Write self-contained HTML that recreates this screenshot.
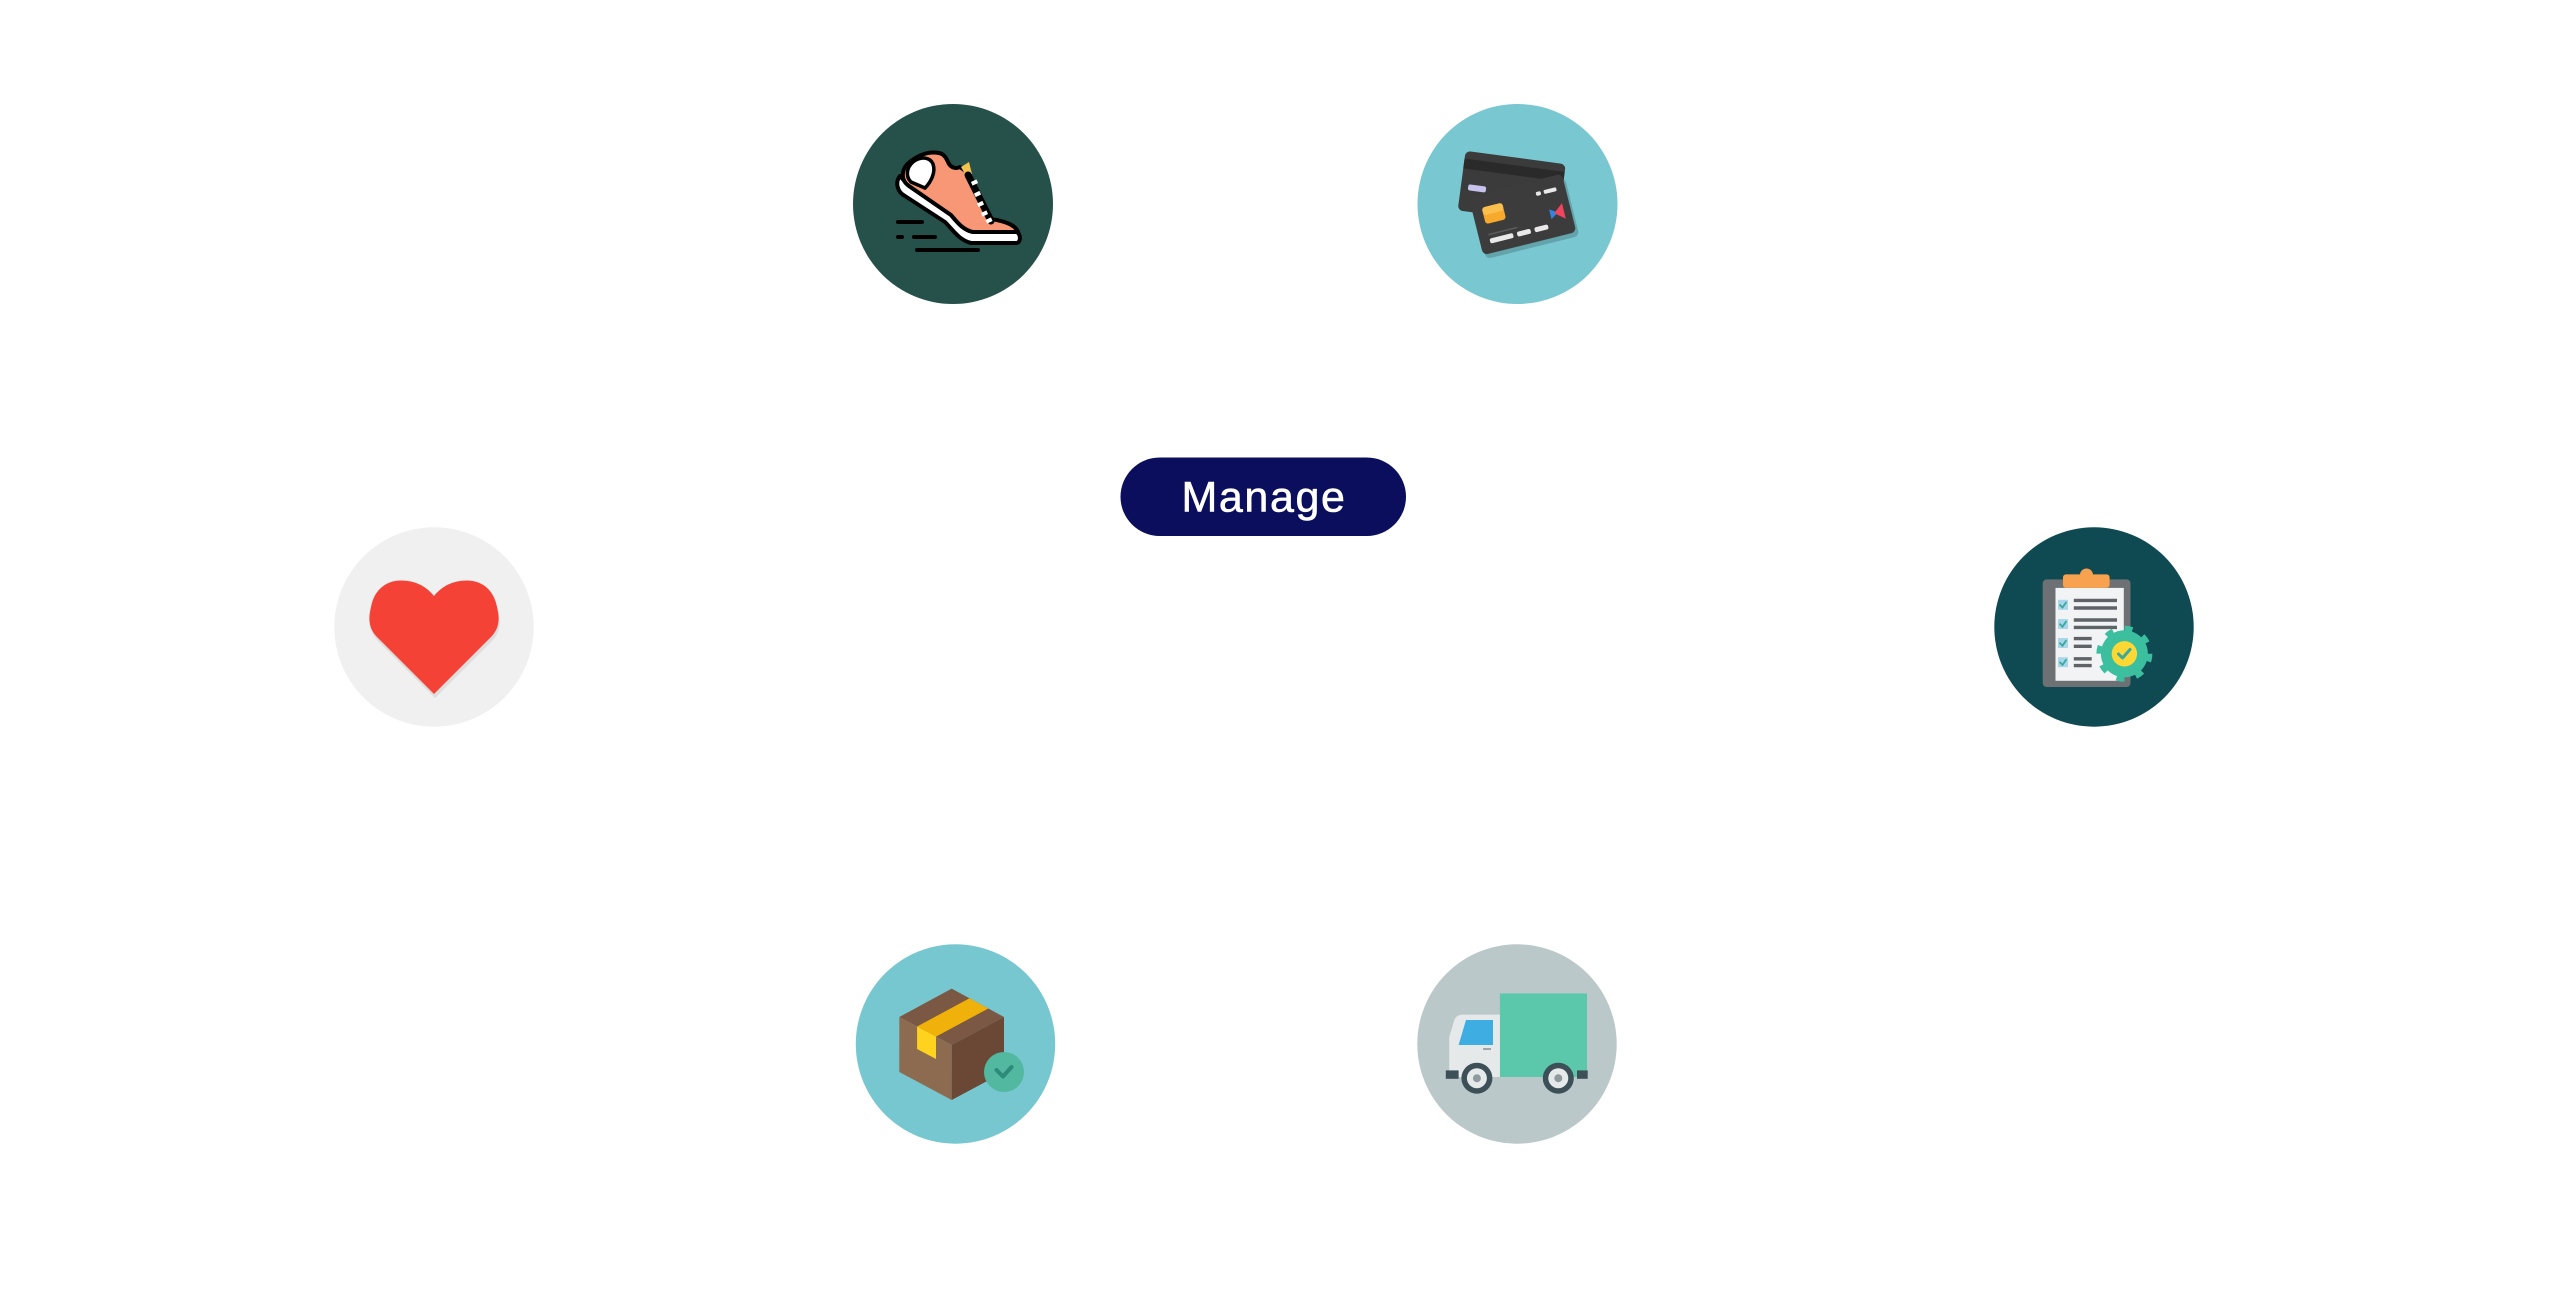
<!DOCTYPE html>
<html><head><meta charset="utf-8"><style>
html,body{margin:0;padding:0;background:#fff;}
svg{display:block;}
</style></head><body>
<svg width="2560" height="1301" viewBox="0 0 2560 1301" xmlns="http://www.w3.org/2000/svg">
<rect width="2560" height="1301" fill="#ffffff"/>

<!-- Manage button -->
<rect x="1120.5" y="457.5" width="285.5" height="78.5" rx="39.25" fill="#0b0e5d"/>
<text x="1264" y="511.5" text-anchor="middle" font-family="Liberation Sans, sans-serif" font-size="43" letter-spacing="1.6" fill="#ffffff" stroke="#ffffff" stroke-width="0.6">Manage</text>

<!-- Shoe -->
<g transform="translate(853,104)">
  <circle cx="100" cy="100" r="100" fill="#25514a"/>
  <g stroke="#000" stroke-width="4" stroke-linecap="round" fill="none">
    <line x1="45" y1="118" x2="69" y2="118"/>
    <line x1="45" y1="133" x2="49" y2="133"/>
    <line x1="61" y1="133" x2="82" y2="133"/>
    <line x1="64" y1="146" x2="125" y2="146"/>
  </g>
  <!-- sole -->
  <path d="M47,72 C42,78 44,88 52,92 L92,118 C100,126 106,136 118,139 L163,139 C168,139 168,131 164,128 L120,128 C110,126 104,118 98,111 L56,82 Z" fill="#ffffff" stroke="#000" stroke-width="4" stroke-linejoin="round"/>
  <!-- upper -->
  <path d="M56,82 C47,76 48,64 58,57 C66,51 76,47 86,49 C92,50 94,56 96,60 C99,64 103,65 107,63 L114,68 L138,115 C150,117 162,120 165,128 L120,128 C110,126 104,118 98,111 Z" fill="#f79775" stroke="#000" stroke-width="4" stroke-linejoin="round"/>
  <!-- heel lining -->
  <path d="M60,58 C68,52 77,53 80,60 C83,68 78,78 72,84 L58,78 C52,72 54,63 60,58 Z" fill="#ffffff" stroke="#000" stroke-width="3.5"/>
  <!-- tongue -->
  <path d="M108,63 L116,58 L119,70 L112,70 Z" fill="#f2c14e"/>
  <!-- lace stripe -->
  <line x1="115" y1="71" x2="138" y2="117" stroke="#000" stroke-width="7" stroke-linecap="round"/>
  <g fill="#ffffff">
    <rect x="118.5" y="76.5" width="6" height="4" transform="rotate(-25 121.5 78.5)"/>
    <rect x="121.5" y="88" width="6" height="4" transform="rotate(-25 124.5 90)"/>
    <rect x="124.5" y="98" width="6" height="4" transform="rotate(-25 127.5 100)"/>
    <rect x="128.5" y="107.5" width="6" height="4" transform="rotate(-25 131.5 109.5)"/>
    <rect x="133" y="114.5" width="6" height="4" transform="rotate(-25 136 116.5)"/>
  </g>
</g>

<!-- Credit cards -->
<g transform="translate(1417.5,104)">
  <circle cx="100" cy="100" r="100" fill="#79c7d1"/>
  <g transform="rotate(7.6 94.2 83.3)">
    <rect x="43.7" y="53.3" width="101" height="60" rx="5" fill="#3b3b3b"/>
    <rect x="43.7" y="61" width="101" height="10" fill="#2a2a2a"/>
    <rect x="51" y="86" width="18" height="6" rx="2" fill="#c8c2ee"/>
  </g>
  <g transform="rotate(-14 105 110.4)">
    <rect x="57" y="82" width="96" height="60" rx="5" fill="#000" opacity="0.18" transform="translate(2,3)"/>
    <rect x="57" y="80.4" width="96" height="60" rx="5" fill="#3c3c3c"/>
    <rect x="67" y="94" width="21" height="17" rx="3" fill="#f7a92b"/>
    <rect x="67" y="94" width="21" height="8" rx="3" fill="#fbbf4e"/>
    <rect x="123" y="92" width="5" height="4" rx="1.5" fill="#e9e9e9"/>
    <rect x="131" y="92" width="13" height="4" rx="1.5" fill="#e9e9e9"/>
    <rect x="67" y="121" width="30" height="1.5" fill="#5a5a5a"/>
    <rect x="67" y="126" width="24" height="5" rx="2" fill="#e9e9e9"/>
    <rect x="95" y="126" width="14" height="5" rx="2" fill="#e9e9e9"/>
    <rect x="113" y="126" width="14" height="5" rx="2" fill="#e9e9e9"/>
    <path d="M132,112 L140,117 L132,122 Z" fill="#2f86e0"/>
    <path d="M146,109 L146,125 L136,117 Z" fill="#f0455e"/>
  </g>
</g>

<!-- Heart -->
<g transform="translate(334,527)">
  <circle cx="100" cy="100" r="99.7" fill="#f0f0f0"/>
  <path d="M100,169 L43,112 C33,102 35,90 37,82 C40,65 52,55 67,55 C81,55 92,61 100,70 C108,61 119,55 133,55 C148,55 160,65 163,82 C165,90 167,102 157,112 Z" fill="#000" opacity="0.08" transform="translate(1,2)"/>
  <path d="M100,167 L43,110 C33,100 35,88 37,80 C40,63 52,53.5 67,53.5 C81,53.5 92,59 100,69 C108,59 119,53.5 133,53.5 C148,53.5 160,63 163,80 C165,88 167,100 157,110 Z" fill="#f44336"/>
</g>

<!-- Clipboard -->
<g transform="translate(1994,527)">
  <circle cx="100" cy="100" r="99.7" fill="#0f4a52"/>
  <rect x="48.7" y="52.4" width="87.8" height="107.6" rx="4" fill="#6e7173"/>
  <rect x="61.5" y="60.9" width="68.3" height="92.9" fill="#f1f3f4"/>
  <circle cx="92.5" cy="48" r="6.5" fill="#f8a24f"/>
  <rect x="69" y="47.4" width="46.6" height="13.5" rx="3" fill="#f8a24f"/>
  <g fill="#a9d6ea">
    <rect x="64" y="72.8" width="10" height="10"/>
    <rect x="64" y="92" width="10" height="10"/>
    <rect x="64" y="111" width="10" height="10"/>
    <rect x="64" y="130.2" width="10" height="10"/>
  </g>
  <g stroke="#3aa89b" stroke-width="1.8" fill="none" stroke-linecap="round">
    <polyline points="66,78 68.5,80.5 72,75.5"/>
    <polyline points="66,97.2 68.5,99.7 72,94.7"/>
    <polyline points="66,116.2 68.5,118.7 72,113.7"/>
    <polyline points="66,135.4 68.5,137.9 72,132.9"/>
  </g>
  <g stroke="#5f6368" stroke-width="3.4">
    <line x1="79.8" y1="73.4" x2="123" y2="73.4"/>
    <line x1="79.8" y1="81" x2="123" y2="81"/>
    <line x1="79.8" y1="93" x2="123" y2="93"/>
    <line x1="79.8" y1="100.4" x2="123" y2="100.4"/>
    <line x1="79.8" y1="111.6" x2="97.7" y2="111.6"/>
    <line x1="79.8" y1="119.3" x2="97.7" y2="119.3"/>
    <line x1="79.8" y1="131.8" x2="97.7" y2="131.8"/>
    <line x1="79.8" y1="138.6" x2="97.7" y2="138.6"/>
  </g>
  <circle cx="130.4" cy="126.8" r="23.5" fill="#3bbf9f"/>
  <circle cx="130.4" cy="126.8" r="25.5" fill="none" stroke="#3bbf9f" stroke-width="5" stroke-dasharray="8 12.03"/>
  <circle cx="130.4" cy="126.8" r="12.7" fill="#fdd835"/>
  <polyline points="124.5,127 128.5,131 136,122.5" stroke="#3aa89b" stroke-width="3" fill="none" stroke-linecap="round" stroke-linejoin="round"/>
</g>

<!-- Box -->
<g transform="translate(855.5,944)">
  <circle cx="100" cy="100" r="99.7" fill="#76c7d0"/>
  <polygon points="96.2,44.6 148.5,73 96.2,101 43.8,73" fill="#7b5843"/>
  <polygon points="43.8,73 96.2,101 96.2,156 43.8,128" fill="#8d6b50"/>
  <polygon points="96.2,101 148.5,73 148.5,128 96.2,156" fill="#6b4735"/>
  <polygon points="61.6,82.5 80.5,92.6 132.8,64.5 114,54.3" fill="#f0b20a"/>
  <polygon points="61.6,82.5 80.5,92.6 80.5,115 61.6,105" fill="#ffd21e"/>
  <circle cx="148.5" cy="128" r="20" fill="#52b89f"/>
  <polyline points="141,126 147.5,132.5 156,123" stroke="#2e8b7a" stroke-width="4" fill="none" stroke-linecap="round" stroke-linejoin="round"/>
</g>

<!-- Truck -->
<g transform="translate(1417,944)">
  <circle cx="100" cy="100" r="99.7" fill="#bac8ca"/>
  <rect x="82.9" y="49.4" width="87.1" height="83.6" fill="#5bc7ab"/>
  <path d="M82.9,70.6 L46,70.6 Q39,70.6 37,77 L32.2,93 L32.2,133 L82.9,133 Z" fill="#e5e9ea"/>
  <path d="M49,76 L76,76 L76,101 L41.6,101 Z" fill="#3dade2"/>
  <line x1="66" y1="105" x2="74" y2="105" stroke="#8a9699" stroke-width="1.6"/>
  <rect x="28.8" y="126.4" width="12.8" height="8.4" fill="#3d4f57"/>
  <rect x="160" y="126.4" width="10.7" height="8.4" fill="#3d4f57"/>
  <circle cx="59.9" cy="134.2" r="15.5" fill="#3d4f57"/>
  <circle cx="59.9" cy="134.2" r="10" fill="#e5e9ea"/>
  <circle cx="59.9" cy="134.2" r="4" fill="#8e9a9d"/>
  <circle cx="141.3" cy="134.2" r="15.5" fill="#3d4f57"/>
  <circle cx="141.3" cy="134.2" r="10" fill="#e5e9ea"/>
  <circle cx="141.3" cy="134.2" r="4" fill="#8e9a9d"/>
</g>
</svg>
</body></html>
